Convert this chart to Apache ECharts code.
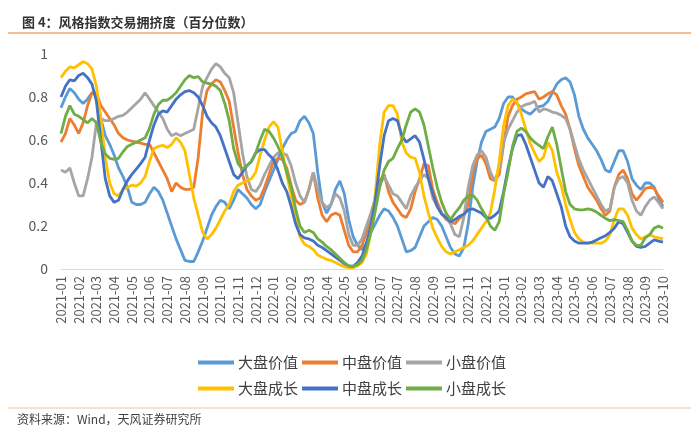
<!DOCTYPE html>
<html><head><meta charset="utf-8">
<script src="https://cdn.jsdelivr.net/npm/echarts@6/dist/echarts.min.js"></script>
<style>html,body{margin:0;padding:0;background:#fff}#c{width:700px;height:436px}</style>
</head><body><div id="c"></div>
<script>
const tickLabels = ['2021-01','2021-02','2021-03','2021-04','2021-05','2021-06','2021-07','2021-08','2021-09','2021-10','2021-11','2021-12',
'2022-01','2022-02','2022-03','2022-04','2022-05','2022-06','2022-07','2022-07','2022-08','2022-09','2022-10','2022-11','2022-12',
'2023-01','2023-02','2023-03','2023-04','2023-05','2023-06','2023-07','2023-08','2023-09','2023-10'];
const seriesNames = ['大盘价值','中盘价值','小盘价值','大盘成长','中盘成长','小盘成长'];

const largeValue = [0.75,0.80,0.84,0.82,0.79,0.77,0.79,0.82,0.81,0.70,0.62,0.58,0.53,0.47,0.43,0.38,0.31,0.30,0.30,0.31,
0.35,0.38,0.36,0.32,0.26,0.20,0.14,0.09,0.04,0.035,0.035,0.08,0.13,0.19,0.25,0.29,0.32,0.31,0.28,0.32,
0.37,0.35,0.33,0.30,0.28,0.30,0.36,0.41,0.46,0.51,0.56,0.60,0.63,0.64,0.69,0.71,0.68,0.63,0.45,0.31,
0.26,0.30,0.37,0.41,0.35,0.23,0.15,0.11,0.09,0.12,0.17,0.21,0.25,0.28,0.27,0.24,0.20,0.14,0.08,0.085,
0.10,0.15,0.20,0.22,0.24,0.23,0.20,0.15,0.10,0.07,0.06,0.10,0.21,0.38,0.50,0.59,0.64,0.65,0.66,0.70,
0.77,0.80,0.80,0.77,0.745,0.73,0.72,0.74,0.755,0.76,0.78,0.82,0.86,0.88,0.89,0.87,0.81,0.71,0.65,0.61,
0.58,0.55,0.51,0.46,0.45,0.50,0.55,0.55,0.50,0.42,0.39,0.37,0.40,0.40,0.38,0.33,0.29];

const midValue = [0.59,0.63,0.70,0.67,0.63,0.68,0.76,0.82,0.82,0.76,0.73,0.70,0.67,0.63,0.61,0.60,0.595,0.59,0.585,0.58,
0.58,0.54,0.50,0.46,0.42,0.36,0.40,0.38,0.37,0.37,0.38,0.52,0.73,0.83,0.86,0.88,0.87,0.83,0.78,0.66,
0.54,0.44,0.37,0.34,0.32,0.33,0.38,0.44,0.50,0.515,0.51,0.47,0.39,0.32,0.30,0.31,0.37,0.45,0.33,0.25,
0.22,0.25,0.26,0.25,0.18,0.11,0.08,0.08,0.11,0.17,0.23,0.33,0.41,0.44,0.36,0.31,0.28,0.25,0.24,0.28,
0.36,0.42,0.49,0.48,0.37,0.31,0.26,0.23,0.22,0.21,0.235,0.25,0.30,0.45,0.51,0.53,0.49,0.42,0.41,0.44,
0.58,0.71,0.76,0.79,0.80,0.815,0.82,0.825,0.79,0.80,0.815,0.825,0.81,0.76,0.72,0.65,0.56,0.48,0.43,0.38,
0.35,0.32,0.28,0.25,0.27,0.38,0.44,0.46,0.42,0.35,0.32,0.345,0.375,0.38,0.375,0.34,0.31];

const smallValue = [0.46,0.45,0.47,0.40,0.34,0.34,0.42,0.52,0.68,0.70,0.69,0.69,0.70,0.71,0.715,0.73,0.75,0.77,0.79,0.82,
0.79,0.76,0.73,0.70,0.65,0.62,0.63,0.62,0.63,0.64,0.65,0.75,0.85,0.89,0.93,0.955,0.94,0.91,0.89,0.82,
0.68,0.54,0.43,0.37,0.36,0.39,0.44,0.48,0.52,0.54,0.54,0.53,0.48,0.40,0.34,0.31,0.37,0.45,0.37,0.31,
0.285,0.30,0.35,0.33,0.27,0.16,0.11,0.11,0.14,0.20,0.26,0.33,0.39,0.43,0.39,0.35,0.34,0.31,0.28,0.34,
0.38,0.41,0.44,0.42,0.33,0.29,0.26,0.235,0.21,0.16,0.15,0.24,0.38,0.48,0.53,0.55,0.52,0.45,0.41,0.47,
0.59,0.65,0.69,0.73,0.755,0.765,0.77,0.78,0.73,0.745,0.74,0.73,0.725,0.715,0.70,0.65,0.58,0.51,0.46,0.42,
0.38,0.34,0.30,0.27,0.28,0.38,0.42,0.43,0.40,0.32,0.27,0.25,0.29,0.32,0.335,0.31,0.28];

const largeGrowth = [0.89,0.92,0.94,0.935,0.95,0.965,0.955,0.93,0.85,0.70,0.52,0.40,0.35,0.34,0.37,0.38,0.39,0.385,0.40,0.43,
0.50,0.56,0.57,0.575,0.565,0.58,0.61,0.59,0.55,0.44,0.33,0.25,0.17,0.14,0.16,0.19,0.23,0.27,0.30,0.36,
0.39,0.40,0.41,0.42,0.45,0.53,0.60,0.66,0.685,0.66,0.55,0.44,0.34,0.24,0.15,0.115,0.105,0.09,0.065,0.055,
0.045,0.04,0.03,0.02,0.01,0.006,0.006,0.015,0.03,0.07,0.17,0.35,0.58,0.73,0.76,0.76,0.72,0.59,0.54,0.52,
0.515,0.45,0.34,0.26,0.19,0.145,0.105,0.08,0.07,0.08,0.09,0.10,0.11,0.13,0.16,0.19,0.22,0.26,0.37,0.50,
0.67,0.76,0.79,0.775,0.72,0.65,0.585,0.54,0.50,0.52,0.59,0.55,0.45,0.39,0.30,0.23,0.17,0.14,0.125,0.12,
0.12,0.12,0.12,0.13,0.16,0.23,0.28,0.28,0.25,0.19,0.16,0.14,0.15,0.16,0.15,0.145,0.14];

const midGrowth = [0.80,0.85,0.88,0.875,0.90,0.91,0.89,0.86,0.78,0.60,0.42,0.34,0.31,0.32,0.37,0.41,0.44,0.465,0.49,0.52,
0.60,0.67,0.72,0.735,0.73,0.76,0.79,0.81,0.825,0.83,0.82,0.80,0.76,0.71,0.68,0.66,0.62,0.56,0.50,0.44,
0.42,0.45,0.48,0.50,0.54,0.555,0.555,0.53,0.51,0.46,0.40,0.36,0.29,0.21,0.16,0.145,0.14,0.13,0.11,0.10,
0.085,0.07,0.055,0.04,0.025,0.015,0.012,0.03,0.06,0.12,0.20,0.32,0.48,0.62,0.69,0.70,0.69,0.62,0.59,0.605,
0.62,0.59,0.51,0.42,0.35,0.29,0.255,0.24,0.22,0.23,0.245,0.255,0.275,0.28,0.27,0.26,0.24,0.235,0.25,0.27,
0.36,0.47,0.56,0.62,0.625,0.58,0.52,0.46,0.40,0.38,0.43,0.41,0.35,0.29,0.20,0.15,0.13,0.12,0.12,0.12,
0.125,0.135,0.145,0.155,0.17,0.19,0.22,0.21,0.17,0.13,0.105,0.10,0.105,0.12,0.135,0.13,0.125];

const smallGrowth = [0.63,0.71,0.76,0.72,0.71,0.695,0.68,0.70,0.68,0.59,0.535,0.515,0.51,0.515,0.545,0.57,0.58,0.59,0.60,0.61,
0.655,0.72,0.765,0.785,0.785,0.80,0.82,0.85,0.88,0.90,0.89,0.895,0.87,0.865,0.86,0.85,0.83,0.77,0.69,0.56,
0.49,0.465,0.48,0.50,0.54,0.60,0.65,0.64,0.61,0.57,0.52,0.45,0.38,0.28,0.20,0.17,0.18,0.17,0.14,0.125,
0.105,0.09,0.07,0.05,0.03,0.015,0.012,0.02,0.04,0.09,0.17,0.27,0.38,0.46,0.50,0.515,0.56,0.60,0.67,0.73,
0.745,0.73,0.67,0.57,0.47,0.38,0.31,0.26,0.23,0.26,0.285,0.32,0.34,0.345,0.32,0.28,0.245,0.20,0.18,0.22,
0.35,0.45,0.57,0.64,0.655,0.64,0.61,0.59,0.575,0.56,0.615,0.66,0.58,0.47,0.36,0.30,0.28,0.275,0.275,0.28,
0.275,0.265,0.25,0.235,0.225,0.23,0.225,0.22,0.18,0.13,0.11,0.11,0.145,0.16,0.19,0.20,0.19];

const colors = ['#5B9BD5','#ED7D31','#A5A5A5','#FFC000','#4472C4','#70AD47'];
const allData = [largeValue, midValue, smallValue, largeGrowth, midGrowth, smallGrowth];

// build category list: 4 observations per tick label, last label has one
const categories = [];
tickLabels.forEach((t, k) => {
  const n = k === tickLabels.length - 1 ? 1 : 4;
  for (let j = 0; j < n; j++) categories.push(t + '#' + k + '-' + j);
});

const chart = echarts.init(document.getElementById('c'), null, {renderer: 'canvas'});
const font = '"Noto Sans CJK SC", "Noto Sans", sans-serif';
const legendBase = {
  icon: 'rect', itemWidth: 36, itemHeight: 4, itemGap: 4, left: 193,
  textStyle: {fontSize: 15, color: '#404040', fontFamily: font, padding: [0, 0, 0, -1]}
};
chart.setOption({
  animation: false,
  textStyle: {fontFamily: font},
  title: {
    text: '图 4：风格指数交易拥挤度（百分位数）', left: 17, top: 11,
    textStyle: {fontSize: 13, fontWeight: 'bold', color: '#333', fontFamily: font}
  },
  graphic: [
    {type: 'line', shape: {x1: 8, y1: 33, x2: 691, y2: 33}, style: {stroke: '#F0A770', lineWidth: 1.5}},
    {type: 'line', shape: {x1: 8, y1: 408, x2: 691, y2: 408}, style: {stroke: '#F3C29C', lineWidth: 1.2}},
    {type: 'text', left: 17, top: 413, style: {text: '资料来源：Wind，天风证券研究所', fontSize: 12, fill: '#404040', fontFamily: font}}
  ],
  legend: [
    Object.assign({}, legendBase, {top: 350, data: seriesNames.slice(0, 3)}),
    Object.assign({}, legendBase, {top: 376, data: seriesNames.slice(3)})
  ],
  grid: {left: 61, right: 37, top: 54, bottom: 167},
  xAxis: {
    type: 'category', data: categories, boundaryGap: false,
    axisLine: {lineStyle: {color: '#D9D9D9', width: 1}},
    axisTick: {show: false},
    axisLabel: {
      interval: 3, rotate: 90, margin: 7, fontSize: 13, color: '#595959', fontFamily: font,
      formatter: v => v.split('#')[0]
    }
  },
  yAxis: {
    type: 'value', min: 0, max: 1, interval: 0.2,
    splitLine: {show: false}, axisLine: {show: false}, axisTick: {show: false},
    axisLabel: {fontSize: 14, color: '#595959', margin: 13, fontFamily: font}
  },
  series: seriesNames.map((n, i) => ({
    name: n, type: 'line', data: allData[i], showSymbol: false, symbol: 'none',
    lineStyle: {width: 2.8, color: colors[i]}, itemStyle: {color: colors[i]}
  }))
});
</script></body></html>
